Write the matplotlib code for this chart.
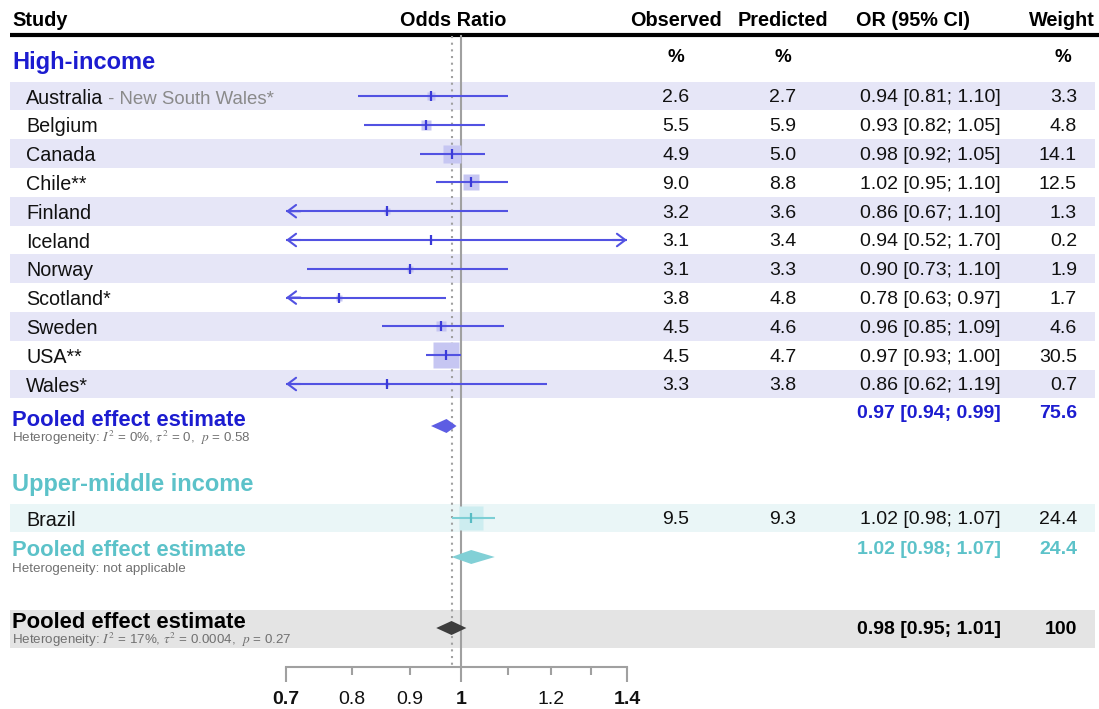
import numpy as np
import matplotlib
matplotlib.use("Agg")
import matplotlib.pyplot as plt
from matplotlib.patches import Rectangle, Polygon

plt.rcParams['font.family'] = ['Liberation Sans', 'DejaVu Sans']
plt.rcParams['mathtext.fontset'] = 'stix'

# ---- data ---------------------------------------------------------------
hi_study = ["Australia", "Belgium", "Canada", "Chile**", "Finland", "Iceland",
            "Norway", "Scotland*", "Sweden", "USA**", "Wales*"]
hi_note = [" - New South Wales*", "", "", "", "", "", "", "", "", "", ""]
hi_observed = [2.6, 5.5, 4.9, 9.0, 3.2, 3.1, 3.1, 3.8, 4.5, 4.5, 3.3]
hi_predicted = [2.7, 5.9, 5.0, 8.8, 3.6, 3.4, 3.3, 4.8, 4.6, 4.7, 3.8]
hi_or = [0.94, 0.93, 0.98, 1.02, 0.86, 0.94, 0.90, 0.78, 0.96, 0.97, 0.86]
hi_lower = [0.81, 0.82, 0.92, 0.95, 0.67, 0.52, 0.73, 0.63, 0.85, 0.93, 0.62]
hi_upper = [1.10, 1.05, 1.05, 1.10, 1.10, 1.70, 1.10, 0.97, 1.09, 1.00, 1.19]
hi_weight = [3.3, 4.8, 14.1, 12.5, 1.3, 0.2, 1.9, 1.7, 4.6, 30.5, 0.7]
hi_pooled = [0.97, 0.94, 0.99]
hi_pooled_weight = 75.6
hi_het = r"Heterogeneity: $I^2$ = 0%, $\tau^2$ = 0,  $p$ = 0.58"

um_study = ["Brazil"]
um_observed = [9.5]
um_predicted = [9.3]
um_or = [1.02]
um_lower = [0.98]
um_upper = [1.07]
um_weight = [24.4]
um_pooled = [1.02, 0.98, 1.07]
um_pooled_weight = 24.4
um_het = "Heterogeneity: not applicable"

all_pooled = [0.98, 0.95, 1.01]
all_pooled_weight = 100
all_het = r"Heterogeneity: $I^2$ = 17%, $\tau^2$ = 0.0004,  $p$ = 0.27"

x_ticks_major = [0.7, 1.0, 1.4]
x_ticks_minor = [0.8, 0.9, 1.1, 1.2, 1.3]
x_minor_labels = ["0.8", "0.9", "", "1.2", ""]
x_range = (0.7, 1.4)

# ---- styling ------------------------------------------------------------
BLUE = dict(text="#1c1cd0", line="#5252e2", square="#c6c6f2", tick="#3a3ad8",
            diamond="#5d5de3", band="#e6e6f7")
CYAN = dict(text="#5cc2c9", line="#7ccfd5", square="#cdedf0", tick="#58bcc3",
            diamond="#82d0d6", band="#eaf6f7")
GREY_BAND = "#e4e4e4"
AXIS_GREY = "#a0a0a0"
HET_GREY = "#707070"
INK = "#111111"
DY = 2  # optical offset so glyphs sit centred on their row

W, H = 1099, 709
fig = plt.figure(figsize=(W / 100, H / 100), dpi=100)

# layout axes in pixel units (text + shading)
bg = fig.add_axes([0, 0, 1, 1])
bg.set_xlim(0, W)
bg.set_ylim(H, 0)
bg.axis("off")

# forest axes: log odds-ratio scale
X0, X1 = 286, 627
ax = fig.add_axes([X0 / W, 0, (X1 - X0) / W, 1])
ax.set_xscale("log")
ax.set_xlim(*x_range)
ax.set_ylim(H, 0)
ax.patch.set_alpha(0)
for s in ["top", "left", "right"]:
    ax.spines[s].set_visible(False)
ax.yaxis.set_visible(False)

AXIS_Y = 667
ax.spines["bottom"].set_position(("data", AXIS_Y))
ax.spines["bottom"].set_bounds(*x_range)
ax.spines["bottom"].set_color(AXIS_GREY)
ax.spines["bottom"].set_linewidth(1.5)
ax.set_xticks(x_ticks_major)
ax.set_xticklabels([f"{v:g}" for v in x_ticks_major], fontweight="bold")
ax.set_xticks(x_ticks_minor, minor=True)
ax.set_xticklabels(x_minor_labels, minor=True)
ax.tick_params(axis="x", which="major", length=10.8, width=1.5, color=AXIS_GREY,
               labelsize=14, pad=6.5, labelcolor=INK)
ax.tick_params(axis="x", which="minor", length=5.5, width=1.5, color=AXIS_GREY,
               labelsize=14, pad=6.5 + 5.3, labelcolor=INK)

# column positions (pixels)
NAME_X, TITLE_X = 26, 12
OBS_X, PRED_X, OR_X, WT_X = 676, 783, 1001, 1077
BAND_X0, BAND_X1 = 10, 1095
ROW_H = 28.8

FS_HEAD, FS_TITLE, FS_POOL = 14.3, 17, 15.8
FS_NAME, FS_NOTE, FS_VAL, FS_HET = 14.2, 13.4, 14, 9.6


def ci_text(est, lo, hi):
    return f"{est:.2f} [{lo:.2f}; {hi:.2f}]"


def wt_text(w):
    return f"{w:.1f}" if w < 100 else f"{w:d}"


# header
hdr = dict(fontsize=FS_HEAD, fontweight="bold", va="center")
bg.text(12, 19 + DY, "Study", **hdr)
bg.text(453, 19 + DY, "Odds Ratio", ha="center", **hdr)
bg.text(OBS_X, 19 + DY, "Observed", ha="center", **hdr)
bg.text(PRED_X, 19 + DY, "Predicted", ha="center", **hdr)
bg.text(913, 19 + DY, "OR (95% CI)", ha="center", **hdr)
bg.text(1062, 19 + DY, "Weight", ha="center", **hdr)
bg.plot([10, W], [34.5, 34.5], color="black", lw=3, solid_capstyle="butt")
for xp in (OBS_X, PRED_X, 1063):
    bg.text(xp, 56 + DY, "%", fontsize=FS_VAL - 0.5, fontweight="bold", va="center", ha="center")

# reference lines
ax.plot([1, 1], [36, AXIS_Y], color=AXIS_GREY, lw=1.5, zorder=1)
ax.plot([all_pooled[0]] * 2, [36, AXIS_Y], color=AXIS_GREY, lw=1.5,
        linestyle=(0, (1, 2.2)), zorder=1)


def draw_study(y, name, note, obs, pred, est, lo, hi, w, style, shaded):
    if shaded:
        bg.add_patch(Rectangle((BAND_X0, y - ROW_H / 2), BAND_X1 - BAND_X0, ROW_H,
                               facecolor=style["band"], edgecolor="none", zorder=0))
    ty = y + DY
    t = bg.text(NAME_X, ty, name, fontsize=FS_NAME, va="center", color=INK)
    if note:
        bg.annotate(note, xy=(1, 0), xycoords=t, va="bottom", fontsize=FS_NOTE,
                    color="#8a8a8a")
    bg.text(OBS_X, ty, f"{obs:.1f}", fontsize=FS_VAL, va="center", ha="center", color=INK)
    bg.text(PRED_X, ty, f"{pred:.1f}", fontsize=FS_VAL, va="center", ha="center", color=INK)
    bg.text(OR_X, ty, ci_text(est, lo, hi), fontsize=FS_VAL, va="center", ha="right", color=INK)
    bg.text(WT_X, ty, wt_text(w), fontsize=FS_VAL, va="center", ha="right", color=INK)

    side_pt = 4.7 * np.sqrt(w) * 0.72
    ax.plot(est, y, marker="s", ms=side_pt, color=style["square"], mec="none", zorder=2)
    clo, chi = max(lo, x_range[0]), min(hi, x_range[1])
    ax.plot([clo, chi], [y, y], color=style["line"], lw=1.5, zorder=3,
            solid_capstyle="butt")
    arrow = dict(arrowstyle="->,head_length=0.6,head_width=0.45", color=style["line"],
                 lw=1.5, shrinkA=0, shrinkB=0, mutation_scale=10)
    if lo < x_range[0]:
        ax.annotate("", xy=(x_range[0], y), xytext=(x_range[0] * 1.03, y),
                    arrowprops=arrow, zorder=3)
    if hi > x_range[1]:
        ax.annotate("", xy=(x_range[1], y), xytext=(x_range[1] / 1.03, y),
                    arrowprops=arrow, zorder=3)
    ax.plot(est, y, marker="|", ms=7, mew=1.6, color=style["tick"], zorder=4)


def draw_pooled(y, vals, w, het, color_text, color_diamond, value_y):
    bg.text(TITLE_X, y + DY, "Pooled effect estimate", fontsize=FS_POOL, fontweight="bold",
            va="center", color=color_text)
    bg.text(TITLE_X, y + 18 + DY, het, fontsize=FS_HET, va="center", color=HET_GREY)
    bg.text(OR_X, value_y + DY, ci_text(*vals), fontsize=FS_VAL, fontweight="bold",
            va="center", ha="right", color=color_text)
    bg.text(WT_X, value_y + DY, wt_text(w), fontsize=FS_VAL, fontweight="bold",
            va="center", ha="right", color=color_text)
    est, lo, hi = vals
    yd = y + 8
    ax.add_patch(Polygon([(lo, yd), (est, yd - 7), (hi, yd), (est, yd + 7)],
                         closed=True, facecolor=color_diamond, edgecolor="none", zorder=4))


# High-income group
bg.text(TITLE_X, 61 + DY, "High-income", fontsize=FS_TITLE, fontweight="bold", va="center",
        color=BLUE["text"])
y0 = 96
for i in range(len(hi_study)):
    draw_study(y0 + i * ROW_H, hi_study[i], hi_note[i], hi_observed[i], hi_predicted[i],
               hi_or[i], hi_lower[i], hi_upper[i], hi_weight[i], BLUE, i % 2 == 0)
draw_pooled(418, hi_pooled, hi_pooled_weight, hi_het, BLUE["text"], BLUE["diamond"], 412)

# Upper-middle income group
bg.text(TITLE_X, 482 + DY, "Upper-middle income", fontsize=FS_TITLE, fontweight="bold",
        va="center", color=CYAN["text"])
for i in range(len(um_study)):
    draw_study(518 + i * ROW_H, um_study[i], "", um_observed[i], um_predicted[i],
               um_or[i], um_lower[i], um_upper[i], um_weight[i], CYAN, True)
draw_pooled(549, um_pooled, um_pooled_weight, um_het, CYAN["text"], CYAN["diamond"], 547)

# Overall
bg.add_patch(Rectangle((BAND_X0, 610), BAND_X1 - BAND_X0, 38, facecolor=GREY_BAND,
                       edgecolor="none", zorder=0))
draw_pooled(620, all_pooled, all_pooled_weight, all_het, "black", "#3d3d3d", 628)

fig.savefig("out.png", dpi=100)
